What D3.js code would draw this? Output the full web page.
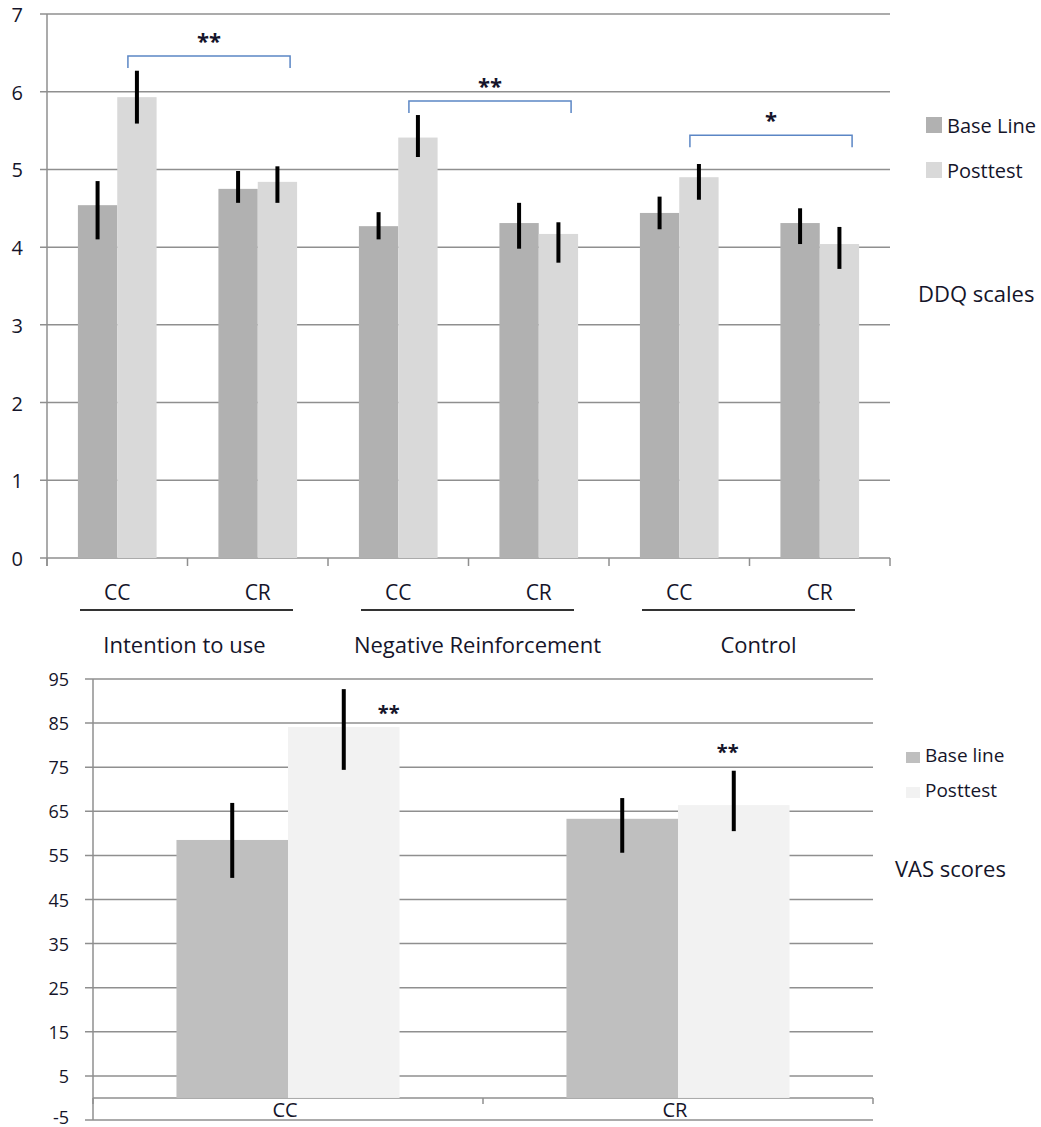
<!DOCTYPE html>
<html>
<head>
<meta charset="utf-8">
<script src="https://cdn.jsdelivr.net/npm/d3@7"></script>
<style>
  body { margin: 0; background: #fff; }
  text { font-family: "Open Sans", sans-serif; fill: #15152a; }
</style>
</head>
<body>
<div id="chart"></div>
<script>
// DDQ chart data
var groups = ["Intention to use", "Negative Reinforcement", "Control"];
var conditions = ["CC", "CR"];
var ddqSeries = ["Base Line", "Posttest"];
var ddqBase = [4.54, 4.75, 4.27, 4.31, 4.44, 4.31];
var ddqBaseLow = [4.10, 4.57, 4.10, 3.98, 4.23, 4.04];
var ddqBaseHigh = [4.85, 4.98, 4.45, 4.57, 4.65, 4.50];
var ddqPost = [5.93, 4.84, 5.41, 4.17, 4.90, 4.04];
var ddqPostLow = [5.59, 4.57, 5.16, 3.80, 4.61, 3.72];
var ddqPostHigh = [6.27, 5.04, 5.70, 4.32, 5.07, 4.26];
var ddqTicks = [0, 1, 2, 3, 4, 5, 6, 7];
var ddqSigLevel = [6.46, 5.88, 5.44];
var ddqSigLabel = ["**", "**", "*"];

// VAS chart data
var vasCategories = ["CC", "CR"];
var vasSeries = ["Base line", "Posttest"];
var vasBase = [58.5, 63.3];
var vasBaseLow = [49.9, 55.6];
var vasBaseHigh = [66.9, 68.0];
var vasPost = [84.1, 66.4];
var vasPostLow = [74.4, 60.5];
var vasPostHigh = [92.7, 74.2];
var vasTicks = [-5, 5, 15, 25, 35, 45, 55, 65, 75, 85, 95];
var vasSigLevel = [88.4, 79.6];
var vasSigLabel = ["**", "**"];

var svg = d3.select("#chart").append("svg")
    .attr("width", 1041)
    .attr("height", 1127);

var gridColor = "#8f8f8f";

// ---------- top chart ----------
var cats = [];
groups.forEach(function(g, gi) {
  conditions.forEach(function(c, ci) { cats.push(gi * 2 + ci); });
});

var x1 = d3.scaleBand().domain(cats).range([47, 890]).paddingInner(0.44).paddingOuter(0.22);
var xs1 = d3.scaleBand().domain(ddqSeries).range([0, x1.bandwidth()]);
var y1 = d3.scaleLinear().domain([0, 7]).range([558, 14]);
var color1 = d3.scaleOrdinal().domain(ddqSeries).range(["#b1b1b1", "#d9d9d9"]);

var topG = svg.append("g");

// gridlines + y labels
topG.selectAll(".grid").data(ddqTicks).enter().append("line")
    .attr("x1", 40).attr("x2", 890)
    .attr("y1", d => y1(d)).attr("y2", d => y1(d))
    .attr("stroke", gridColor).attr("stroke-width", 1.5);
topG.selectAll(".ylab").data(ddqTicks).enter().append("text")
    .attr("x", 23).attr("y", d => y1(d) + 8)
    .attr("text-anchor", "end")
    .style("font-size", "20px")
    .text(d => d);

// y axis line
topG.append("line").attr("x1", 47).attr("x2", 47).attr("y1", 14).attr("y2", 566)
    .attr("stroke", gridColor).attr("stroke-width", 1.5);
// category ticks
d3.range(cats.length + 1).forEach(function(i) {
  var xx = 47 + i * x1.step();
  topG.append("line").attr("x1", xx).attr("x2", xx).attr("y1", 558).attr("y2", 566)
      .attr("stroke", gridColor).attr("stroke-width", 1.5);
});

var rows1 = cats.map(function(i) {
  return [
    {cat: i, s: ddqSeries[0], v: ddqBase[i], lo: ddqBaseLow[i], hi: ddqBaseHigh[i]},
    {cat: i, s: ddqSeries[1], v: ddqPost[i], lo: ddqPostLow[i], hi: ddqPostHigh[i]}
  ];
}).flat();

topG.selectAll(".bar").data(rows1).enter().append("rect")
    .attr("x", d => x1(d.cat) + xs1(d.s))
    .attr("width", xs1.bandwidth())
    .attr("y", d => y1(d.v))
    .attr("height", d => y1(0) - y1(d.v))
    .attr("fill", d => color1(d.s));

topG.selectAll(".err").data(rows1).enter().append("line")
    .attr("x1", d => x1(d.cat) + xs1(d.s) + xs1.bandwidth() / 2)
    .attr("x2", d => x1(d.cat) + xs1(d.s) + xs1.bandwidth() / 2)
    .attr("y1", d => y1(d.hi)).attr("y2", d => y1(d.lo))
    .attr("stroke", "#000").attr("stroke-width", 4);

// condition labels
cats.forEach(function(i) {
  topG.append("text")
      .attr("x", x1(i) + x1.bandwidth() / 2).attr("y", 600)
      .attr("text-anchor", "middle").style("font-size", "21px")
      .text(conditions[i % 2]);
});
// group labels with underline
var groupShift = [-3, 9, 9];
groups.forEach(function(g, gi) {
  var gx0 = 47 + gi * 2 * x1.step();
  var gx1 = gx0 + 2 * x1.step();
  topG.append("line").attr("x1", gx0 + 33).attr("x2", gx1 - 35)
      .attr("y1", 610).attr("y2", 610)
      .attr("stroke", "#333").attr("stroke-width", 1.8);
  topG.append("text")
      .attr("x", (gx0 + gx1) / 2 + groupShift[gi]).attr("y", 653)
      .attr("text-anchor", "middle").style("font-size", "22px")
      .text(g);
});

// significance brackets
groups.forEach(function(g, gi) {
  var cc = gi * 2, cr = gi * 2 + 1;
  var bx0 = x1(cc) + xs1(ddqSeries[1]) + xs1.bandwidth() / 2 - 9;
  var bx1 = x1(cr) + x1.bandwidth() - 7;
  var by = y1(ddqSigLevel[gi]);
  topG.append("path")
      .attr("d", "M" + bx0 + "," + (by + 12) + "V" + by + "H" + bx1 + "V" + (by + 12))
      .attr("fill", "none").attr("stroke", "#5b86c5").attr("stroke-width", 1.5);
  topG.append("text")
      .attr("x", (bx0 + bx1) / 2).attr("y", by - 7)
      .attr("text-anchor", "middle")
      .style("font-size", "22px").style("font-weight", "bold")
      .text(ddqSigLabel[gi]);
});

// legend
ddqSeries.forEach(function(s, i) {
  topG.append("rect").attr("x", 926).attr("y", 117 + i * 45).attr("width", 16).attr("height", 16)
      .attr("fill", color1(s));
  topG.append("text").attr("x", 947).attr("y", 133 + i * 45)
      .style("font-size", "20px").text(s);
});
topG.append("text").attr("x", 918).attr("y", 302).style("font-size", "22px").text("DDQ scales");

// ---------- bottom chart ----------
var x2 = d3.scaleBand().domain(vasCategories).range([93, 873]).paddingInner(0.428).paddingOuter(0.214);
var xs2 = d3.scaleBand().domain(vasSeries).range([0, x2.bandwidth()]);
var y2 = d3.scaleLinear().domain([-5, 95]).range([1120, 679]);
var color2 = d3.scaleOrdinal().domain(vasSeries).range(["#bfbfbf", "#f2f2f2"]);

var botG = svg.append("g");

botG.selectAll(".grid").data(vasTicks).enter().append("line")
    .attr("x1", 85).attr("x2", 873)
    .attr("y1", d => y2(d)).attr("y2", d => y2(d))
    .attr("stroke", gridColor).attr("stroke-width", 1.5);
// bottom-most label sits on the page edge, keep it just inside
botG.selectAll(".ylab").data(vasTicks).enter().append("text")
    .attr("x", 69).attr("y", d => Math.min(y2(d) + 7, 1124))
    .attr("text-anchor", "end")
    .style("font-size", "18px")
    .text(d => d);
botG.append("line").attr("x1", 93).attr("x2", 93).attr("y1", 679).attr("y2", 1120)
    .attr("stroke", gridColor).attr("stroke-width", 1.5);

// category axis at zero
botG.append("line").attr("x1", 93).attr("x2", 873).attr("y1", y2(0)).attr("y2", y2(0))
    .attr("stroke", gridColor).attr("stroke-width", 1.5);
d3.range(vasCategories.length + 1).forEach(function(i) {
  var xx = 93 + i * x2.step();
  botG.append("line").attr("x1", xx).attr("x2", xx).attr("y1", y2(0)).attr("y2", y2(0) + 6)
      .attr("stroke", gridColor).attr("stroke-width", 1.5);
});

var rows2 = vasCategories.map(function(c, i) {
  return [
    {cat: c, s: vasSeries[0], v: vasBase[i], lo: vasBaseLow[i], hi: vasBaseHigh[i]},
    {cat: c, s: vasSeries[1], v: vasPost[i], lo: vasPostLow[i], hi: vasPostHigh[i]}
  ];
}).flat();

botG.selectAll(".bar").data(rows2).enter().append("rect")
    .attr("x", d => x2(d.cat) + xs2(d.s))
    .attr("width", xs2.bandwidth())
    .attr("y", d => y2(d.v))
    .attr("height", d => y2(0) - y2(d.v))
    .attr("fill", d => color2(d.s));

botG.selectAll(".err").data(rows2).enter().append("line")
    .attr("x1", d => x2(d.cat) + xs2(d.s) + xs2.bandwidth() / 2)
    .attr("x2", d => x2(d.cat) + xs2(d.s) + xs2.bandwidth() / 2)
    .attr("y1", d => y2(d.hi)).attr("y2", d => y2(d.lo))
    .attr("stroke", "#000").attr("stroke-width", 4);

var starShift = [45, -6];
vasCategories.forEach(function(c, i) {
  botG.append("text")
      .attr("x", x2(c) + x2.bandwidth() / 2 - 3).attr("y", 1117)
      .attr("text-anchor", "middle").style("font-size", "20px")
      .text(c);
  botG.append("text")
      .attr("x", x2(c) + xs2(vasSeries[1]) + xs2.bandwidth() / 2 + starShift[i])
      .attr("y", y2(vasSigLevel[i]) + 12)
      .attr("text-anchor", "middle")
      .style("font-size", "20px").style("font-weight", "bold")
      .text(vasSigLabel[i]);
});

vasSeries.forEach(function(s, i) {
  botG.append("rect").attr("x", 906).attr("y", 752 + i * 35).attr("width", 14).attr("height", 11)
      .attr("fill", color2(s));
  botG.append("text").attr("x", 925).attr("y", 762 + i * 35)
      .style("font-size", "19px").text(s);
});
botG.append("text").attr("x", 895).attr("y", 877).style("font-size", "22px").text("VAS scores");
</script>
</body>
</html>
